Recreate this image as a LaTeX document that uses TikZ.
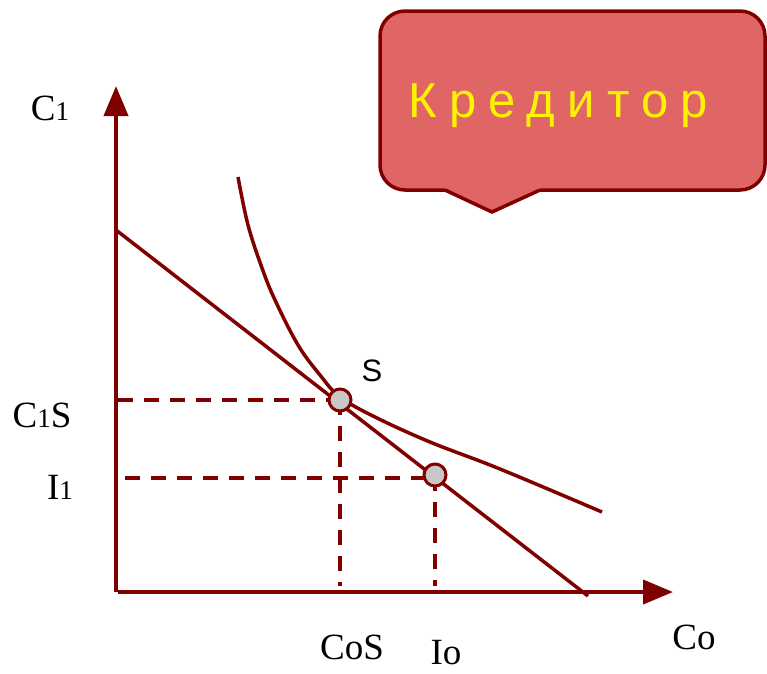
\documentclass[tikz,border=0pt]{standalone}
\usepackage{fontspec}
\usetikzlibrary{arrows.meta}
\newfontfamily\labsans{Liberation Sans}
\newfontfamily\labserif{Liberation Serif}
\newfontfamily\kredfont[LetterSpace=25]{Liberation Sans}
\newcommand{\osone}{{\fontsize{27}{30}\selectfont 1}}
\definecolor{axred}{HTML}{800000}
\definecolor{callfill}{HTML}{E06666}
\definecolor{dotfill}{HTML}{C8C8C8}
\begin{document}
\begin{tikzpicture}[x=1pt,y=-1pt,
  axis/.style={draw=axred, line width=4pt, -{Triangle[length=30pt,width=24pt]}},
  curveline/.style={draw=axred, line width=3.5pt},
  guide/.style={draw=axred, line width=3.5pt, dash pattern=on 15pt off 11pt},
  point/.style={circle, draw=axred, line width=3pt, fill=dotfill, minimum size=22pt, inner sep=0pt},
  serif/.style={font=\labserif\fontsize{37}{40}\selectfont},
  callout/.style={draw=axred, line width=3.5pt, fill=callfill}]
\useasboundingbox (0,0) rectangle (767,673);

% axes
\coordinate (O) at (116,592);
\coordinate (ytop) at (116,86);
\coordinate (xend) at (673,592);
\draw[axis] (116,592) -- (ytop);
\draw[axis] (118,592) -- (xend);

% budget line
\coordinate (bA) at (116,230);
\coordinate (bB) at (588,596);
\draw[curveline] (bA) -- (bB);

% indifference curve
\draw[curveline] plot[smooth, tension=0.6] coordinates {(238,177) (248,225) (262,268) (275,300) (298,345) (320,375) (340,397) (375,417) (430,442) (500,469) (602,512)};

% guide lines
\coordinate (Sx) at (118,400);
\coordinate (Sy) at (340,586);
\coordinate (Px) at (125,478);
\coordinate (Py) at (435,586);
\draw[guide] (Sx) -- (340,400);
\draw[guide] (340,400) -- (Sy);
\draw[guide] (Px) -- (435,478);
\draw[guide] (435,476) -- (Py);

% points
\node[point] (S) at (340,400) {};
\node[point] (P) at (435,475) {};

% labels
\node[serif] (lC1) at (50,108) {C\osone};
\node[serif] (lC1S) at (42,415) {C\osone S};
\node[serif] (lI1) at (60,487) {I\osone};
\node[serif] (lCoS) at (352,647) {CoS};
\node[serif] (lIo) at (446,653) {Io};
\node[serif] (lCo) at (694,637) {Co};
\node[font=\labsans\fontsize{31}{34}\selectfont] (lS) at (372,371) {S};

% callout
\draw[callout, rounded corners=25pt] (380,11) rectangle (765,190);
\fill[callfill] (445,185) -- (445,190) -- (492,212) -- (540,190) -- (540,185) -- cycle;
\draw[axred, line width=3.5pt] (445,190) -- (492,212) -- (540,190);
\node[font=\kredfont\fontsize{49}{52}\selectfont, text=yellow, anchor=base west, inner sep=0pt] (kred) at (408,117) {Кредитор};
\end{tikzpicture}
\end{document}
